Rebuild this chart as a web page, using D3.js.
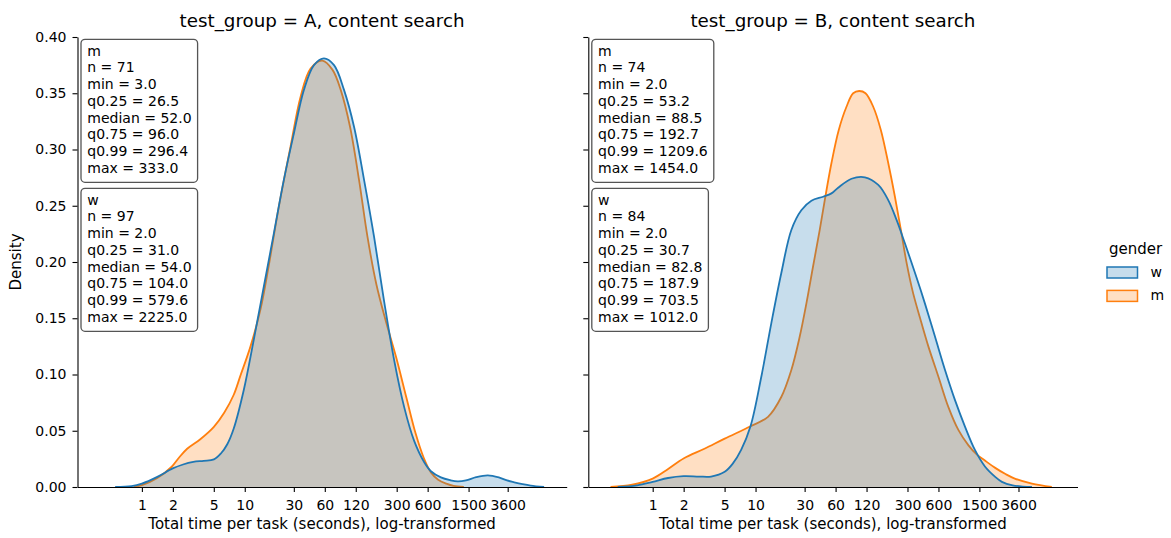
<!DOCTYPE html>
<html>
<head>
<meta charset="utf-8">
<script src="https://cdn.jsdelivr.net/npm/d3@7/dist/d3.min.js"></script>
<style>
  body { margin: 0; background: #ffffff; }
  svg text { font-family: "DejaVu Sans", sans-serif; fill: #000; }
</style>
</head>
<body>
<svg id="chart" width="1171" height="538"></svg>
<script>
// ---- data ---------------------------------------------------------------
const panelTitles = ["test_group = A, content search", "test_group = B, content search"];
const genders = ["w", "m"];
const genderColors = ["#1f77b4", "#ff7f0e"];
const xTickValues = [1, 2, 5, 10, 30, 60, 120, 300, 600, 1500, 3600];
const yTickValues = [0, 0.05, 0.10, 0.15, 0.20, 0.25, 0.30, 0.35, 0.40];

// KDE estimates: [log10(seconds), density]
const kdeA_w = [[-0.26,0],[-0.1,0.0008],[0,0.003],[0.15,0.009],[0.30,0.0165],[0.40,0.020],[0.50,0.0223],
  [0.60,0.0233],[0.70,0.0245],[0.77,0.030],[0.83,0.038],[0.893,0.052],[0.99,0.086],[1.088,0.131],
  [1.185,0.178],[1.283,0.2255],[1.38,0.273],[1.478,0.3145],[1.575,0.353],[1.673,0.375],[1.77,0.381],
  [1.868,0.375],[1.965,0.353],[2.063,0.320],[2.16,0.273],[2.257,0.2225],[2.355,0.165],[2.452,0.113],
  [2.55,0.071],[2.647,0.041],[2.745,0.022],[2.81,0.014],[2.907,0.0085],[3.0,0.006],[3.07,0.0050],
  [3.15,0.0058],[3.25,0.0087],[3.363,0.0103],[3.47,0.0085],[3.55,0.0058],[3.62,0.0042],[3.70,0.0026],
  [3.78,0.0013],[3.91,0]];
const kdeA_m = [[-0.08,0],[0,0.0016],[0.15,0.008],[0.29,0.018],[0.36,0.026],[0.44,0.034],[0.568,0.0425],
  [0.70,0.0535],[0.80,0.066],[0.893,0.082],[0.958,0.099],[1.056,0.125],[1.153,0.158],
  [1.23,0.195],[1.331,0.249],[1.445,0.3026],[1.543,0.347],[1.64,0.372],[1.754,0.379],[1.852,0.371],
  [1.933,0.353],[2.024,0.320],[2.111,0.273],[2.193,0.2225],[2.28,0.180],[2.37,0.148],[2.47,0.116],
  [2.57,0.080],[2.66,0.048],[2.74,0.026],[2.81,0.013],[2.88,0.0065],[2.96,0.003],[3.03,0.001],[3.13,0]];
const kdeB_w = [[-0.34,0],[-0.15,0.0015],[0,0.0046],[0.15,0.008],[0.30,0.0096],[0.45,0.0093],
  [0.568,0.0093],[0.70,0.0135],[0.78,0.021],[0.86,0.033],[0.951,0.054],[1.056,0.098],[1.153,0.1455],
  [1.25,0.19],[1.348,0.2285],[1.445,0.246],[1.543,0.2545],[1.657,0.258],[1.738,0.261],
  [1.803,0.266],[1.933,0.274],[2.063,0.2753],[2.193,0.2685],[2.29,0.255],[2.371,0.2374],[2.452,0.2166],
  [2.566,0.186],[2.647,0.163],[2.745,0.1335],[2.842,0.104],[2.94,0.077],[3.037,0.0535],[3.134,0.0327],
  [3.232,0.018],[3.33,0.009],[3.395,0.0046],[3.50,0.0015],[3.687,0]];
const kdeB_m = [[-0.41,0],[-0.2,0.002],[0,0.0075],[0.15,0.016],[0.30,0.0253],[0.503,0.034],[0.70,0.043],
  [0.951,0.054],[1.121,0.0624],[1.25,0.080],[1.348,0.104],[1.429,0.1335],[1.494,0.163],[1.559,0.196],
  [1.624,0.2285],[1.673,0.255],[1.738,0.288],[1.809,0.3174],[1.884,0.338],[1.949,0.350],[2.008,0.352],
  [2.069,0.350],[2.144,0.338],[2.218,0.3174],[2.29,0.288],[2.355,0.258],[2.413,0.2285],[2.469,0.199],
  [2.53,0.173],[2.60,0.150],[2.68,0.125],[2.778,0.098],[2.875,0.071],[2.973,0.0505],[3.07,0.037],
  [3.15,0.029],[3.23,0.0235],[3.33,0.017],[3.43,0.0115],[3.52,0.0075],[3.687,0.003],[3.88,0]];

// summary statistics: n, min, q0.25, median, q0.75, q0.99, max
const statNames = ["n", "min", "q0.25", "median", "q0.75", "q0.99", "max"];
const statsA_m = [71, 3.0, 26.5, 52.0, 96.0, 296.4, 333.0];
const statsA_w = [97, 2.0, 31.0, 54.0, 104.0, 579.6, 2225.0];
const statsB_m = [74, 2.0, 53.2, 88.5, 192.7, 1209.6, 1454.0];
const statsB_w = [84, 2.0, 30.7, 82.8, 187.9, 703.5, 1012.0];

// ---- layout -------------------------------------------------------------
const svg = d3.select("#chart");
const plotTop = 37, plotBottom = 487;
const panelLeft = [77.5, 588.3];
const panelWidth = 489.2;

const panels = [
  { title: panelTitles[0], curves: { w: kdeA_w, m: kdeA_m }, stats: { m: statsA_m, w: statsA_w } },
  { title: panelTitles[1], curves: { w: kdeB_w, m: kdeB_m }, stats: { m: statsB_m, w: statsB_w } }
];

const colorOf = g => genderColors[genders.indexOf(g)];

const y = d3.scaleLinear().domain([0, 0.4]).range([plotBottom, plotTop]);

panels.forEach((p, i) => {
  const x0 = panelLeft[i];
  const x = d3.scaleLog().domain([Math.pow(10, -0.626), Math.pow(10, 4.13)]).range([x0, x0 + panelWidth]);
  const g = svg.append("g");
  const curve = d3.curveCatmullRom.alpha(0.5);

  const area = d3.area()
    .x(d => x(Math.pow(10, d[0])))
    .y0(y(0))
    .y1(d => y(d[1]))
    .curve(curve);
  const line = d3.line()
    .x(d => x(Math.pow(10, d[0])))
    .y(d => y(d[1]))
    .curve(curve);

  // m drawn first, w layered on top
  ["m", "w"].forEach(key => {
    const c = colorOf(key);
    g.append("path").datum(p.curves[key]).attr("d", area)
      .attr("fill", c).attr("fill-opacity", 0.25).attr("stroke", "none");
    g.append("path").datum(p.curves[key]).attr("d", line)
      .attr("fill", "none").attr("stroke", c).attr("stroke-width", 1.8)
      .attr("stroke-linejoin", "round");
  });

  // axes
  const xAxis = d3.axisBottom(x).tickValues(xTickValues).tickFormat(d3.format("d"))
    .tickSize(5).tickSizeOuter(0).tickPadding(8);
  const gx = svg.append("g").attr("transform", `translate(0,${plotBottom})`).call(xAxis);
  const yAxis = d3.axisLeft(y).tickValues(yTickValues)
    .tickFormat(i === 0 ? d3.format(".2f") : () => "")
    .tickSize(5).tickSizeOuter(0).tickPadding(6);
  const gy = svg.append("g").attr("transform", `translate(${x0},0)`).call(yAxis);
  [gx, gy].forEach(a => {
    a.selectAll("text").attr("font-size", 14).attr("font-family", "DejaVu Sans").attr("fill", "#000");
    a.selectAll("line").attr("stroke", "#000").attr("stroke-width", 1.1);
    a.select(".domain").attr("stroke", "#000").attr("stroke-width", 1.1);
  });

  // x label
  svg.append("text").attr("x", x0 + panelWidth / 2).attr("y", 529)
    .attr("text-anchor", "middle").attr("font-size", 15)
    .text("Total time per task (seconds), log-transformed");

  // title
  svg.append("text").attr("x", x0 + panelWidth / 2).attr("y", 27)
    .attr("text-anchor", "middle").attr("font-size", 18.3)
    .text(p.title);

  // statistic boxes
  const boxTops = { m: 39.3, w: 188.3 };
  ["m", "w"].forEach(key => {
    const lines = [key].concat(statNames.map((n, k) =>
      `${n} = ${k === 0 ? p.stats[key][k] : p.stats[key][k].toFixed(1)}`));
    const bg = svg.append("g");
    const rect = bg.append("rect");
    const tx = x0 + 9.8;
    const t = bg.append("text").attr("font-size", 14);
    let maxW = 0;
    lines.forEach((s, k) => {
      const ts = t.append("tspan").attr("x", tx).attr("y", boxTops[key] + 16.2 + k * 16.75).text(s);
      maxW = Math.max(maxW, ts.node().getComputedTextLength());
    });
    rect.attr("x", x0 + 3.5).attr("y", boxTops[key])
      .attr("width", maxW + 12.3).attr("height", 143)
      .attr("rx", 4).attr("ry", 4)
      .attr("fill", "#fff").attr("fill-opacity", 0.85)
      .attr("stroke", "#555").attr("stroke-width", 1.3);
  });
});

// y label
svg.append("text")
  .attr("transform", `translate(21,${(plotTop + plotBottom) / 2}) rotate(-90)`)
  .attr("text-anchor", "middle").attr("font-size", 15)
  .text("Density");

// legend
const lg = svg.append("g");
lg.append("text").attr("x", 1135.5).attr("y", 254).attr("text-anchor", "middle")
  .attr("font-size", 15).text("gender");
genders.forEach((gname, k) => {
  const c = genderColors[k];
  lg.append("rect").attr("x", 1107).attr("y", 267 + k * 23.4).attr("width", 30.5).attr("height", 11)
    .attr("fill", c).attr("fill-opacity", 0.25).attr("stroke", c).attr("stroke-width", 1.5);
  lg.append("text").attr("x", 1150.5).attr("y", 277 + k * 23.4).attr("font-size", 14).text(gname);
});
</script>
</body>
</html>
